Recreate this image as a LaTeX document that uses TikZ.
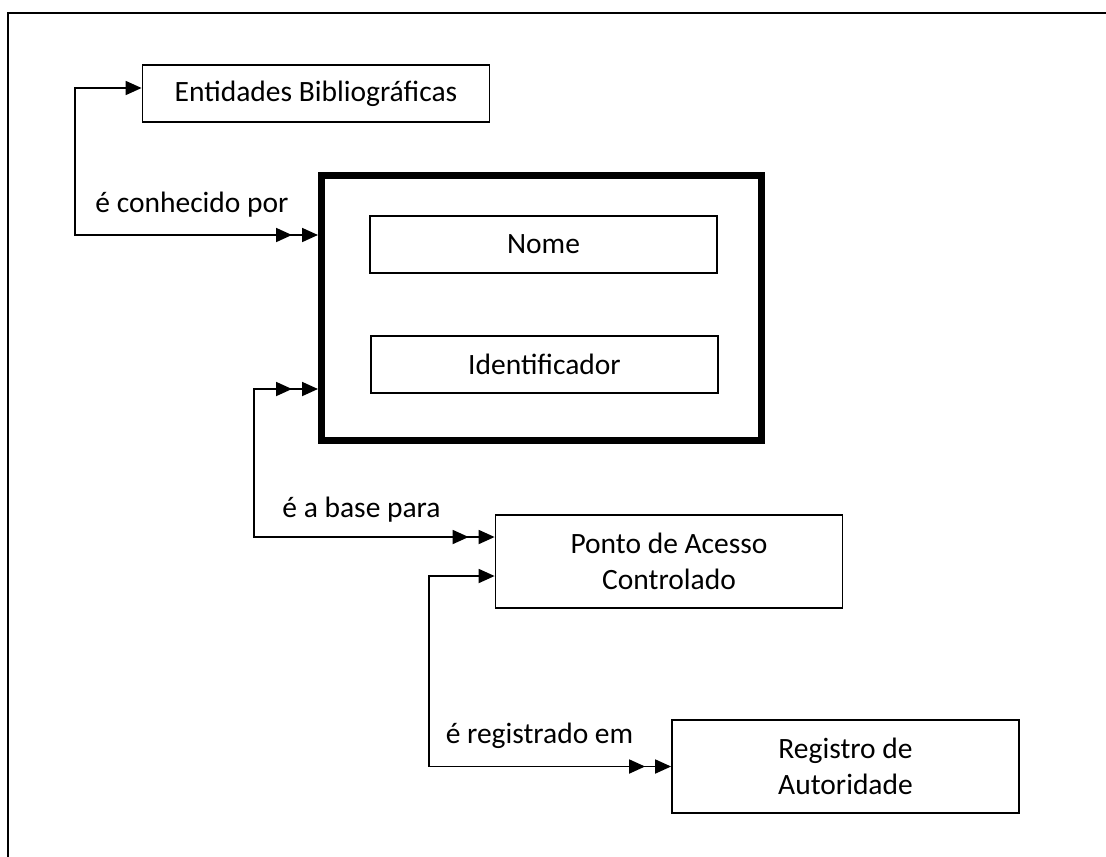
\documentclass[tikz,border=0pt]{standalone}
\usepackage{fontspec}
\setmainfont{Carlito}
\usetikzlibrary{positioning,arrows.meta,decorations.markings}

\begin{document}
\begin{tikzpicture}[x=0.5pt,y=-0.5pt,font=\fontsize{14.75pt}{18pt}\selectfont]
\tikzset{
 tri/.tip={Triangle[length=8pt,width=7pt]},
 bx/.style={draw,line width=0.9pt,inner sep=0,minimum width=173.5pt,align=center},
 ln/.style={line width=0.9pt},
 dstart/.style={decoration={markings,mark=at position 13pt with {\arrowreversed{tri}}},postaction=decorate},
 dend/.style={decoration={markings,mark=at position -13pt with {\arrow{tri}}},postaction=decorate},
 dboth/.style={decoration={markings,mark=at position 13pt with {\arrowreversed{tri}},mark=at position -13pt with {\arrow{tri}}},postaction=decorate}
}
\useasboundingbox (0,0) rectangle (1106,856);
\draw[line width=0.9pt] (8,870) -- (8,13) -- (1120,13);

\node[bx,minimum height=28.5pt] (ent) at (316,93.5) {Entidades Bibliográficas};
\node[draw,line width=3.5pt,inner sep=0,minimum width=220pt,minimum height=132.5pt] (big) at (541.5,308) {};
\node[bx,minimum height=28.5pt] (nome) at (543.5,244.5) {Nome};
\node[bx,minimum height=28.5pt] (ident) at (544.5,364.5) {Identificador};
\node[bx,minimum height=46.5pt] (ponto) at (669,561.5) {Ponto de Acesso\\Controlado};
\node[bx,minimum height=46.5pt] (reg) at (845.5,766.5) {Registro de\\Autoridade};

% relacoes
\draw[ln,{tri}-{tri},dstart] ([yshift=36.5pt]big.west) -- ++(-243,0) |- ([yshift=2.75pt]ent.west);
\draw[ln,{tri}-{tri},dboth] ([yshift=-40.5pt]big.west) -- ++(-64,0) |- ([yshift=12.25pt]ponto.west);
\draw[ln,{tri}-{tri},dend] ([yshift=-7.25pt]ponto.west) -- ++(-66,0) |- (reg.west);

\node[anchor=base] (lconh) at (192,212) {é conhecido por};
\node[anchor=base] (lbase) at (361.5,517) {é a base para};
\node[anchor=base] (lreg) at (539.5,743) {é registrado em};
\end{tikzpicture}
\end{document}
